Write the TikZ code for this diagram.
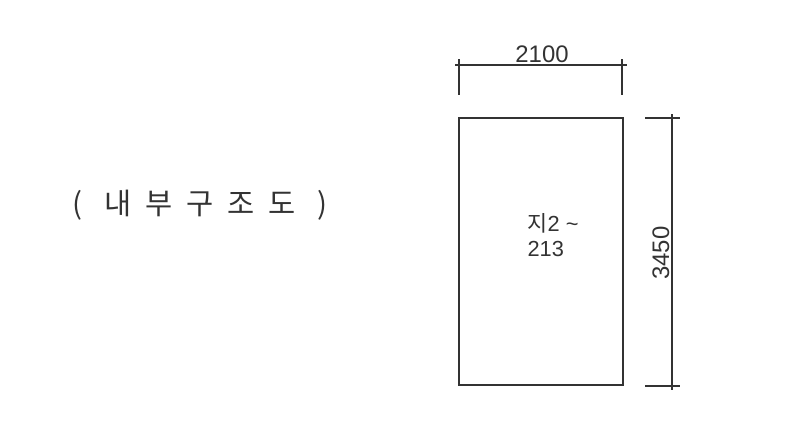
\documentclass[tikz,border=0pt]{standalone}
\usepackage{fontspec}
\setmainfont{Liberation Sans}
\newfontfamily\kofont{Noto Sans CJK KR}
\newcommand\titlechar[1]{\makebox[1.02cm]{#1}}

\begin{document}
\begin{tikzpicture}[x=0.025cm, y=-0.025cm, line width=0.8pt, color=black!80,
	dimtext/.style={font=\fontsize{17}{19}\selectfont, inner sep=0pt}]
	\useasboundingbox (0,0) rectangle (800,421);

	% title
	\node (title) at (200,205) {\kofont\fontsize{21}{23}\selectfont
		\titlechar{(}\titlechar{내}\titlechar{부}\titlechar{구}\titlechar{조}\titlechar{도}\titlechar{)}};

	% room
	\node (room) [draw, minimum width=4.1cm, minimum height=6.675cm, inner sep=0pt] at (541,251.5) {};
	\node (roomname) [anchor=west, align=left, inner sep=0pt, font=\fontsize{15.5}{17.7}\selectfont] at (527,235)
		{{\kofont 지}2 \textasciitilde\\213};

	% width dimension
	\coordinate (wl) at (455,65);
	\coordinate (wr) at (627,65);
	\coordinate (wlt) at (459,59);
	\coordinate (wlb) at (459,95);
	\coordinate (wrt) at (622,59);
	\coordinate (wrb) at (622,95);
	\draw (wl) -- (wr);
	\draw (wlt) -- (wlb);
	\draw (wrt) -- (wrb);
	\node (wlabel) [dimtext] at (542,54) {2100};

	% height dimension
	\coordinate (ht) at (672,114);
	\coordinate (hb) at (672,390);
	\coordinate (htl) at (645,118);
	\coordinate (htr) at (680,118);
	\coordinate (hbl) at (645,386);
	\coordinate (hbr) at (680,386);
	\draw (ht) -- (hb);
	\draw (htl) -- (htr);
	\draw (hbl) -- (hbr);
	\node (hlabel) [dimtext, rotate=90] at (661,253) {3450};
\end{tikzpicture}
\end{document}
